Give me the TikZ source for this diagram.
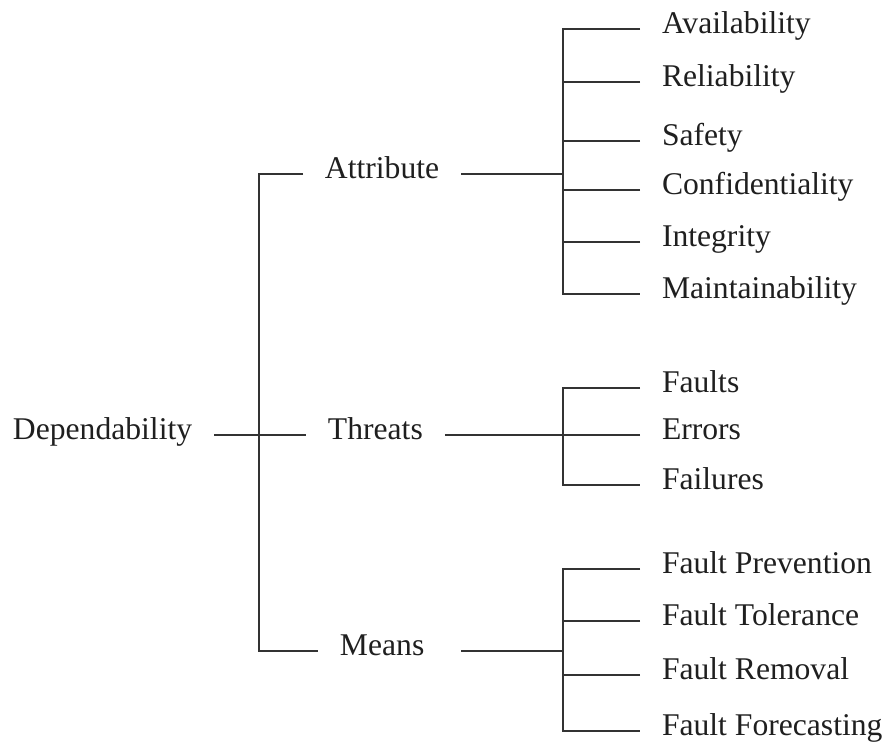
\documentclass[tikz,border=0pt]{standalone}
\usepackage{fontspec}
\setmainfont{Liberation Serif}
\usepackage{tikz}
\usetikzlibrary{positioning}

\begin{document}
\begin{tikzpicture}[
    x=0.02cm, y=-0.02cm,
    font=\fontsize{18}{21.6}\selectfont,
    term/.style={
		anchor=mid west,
		inner sep=0pt,
		outer xsep=0.44cm,
		text=black!88
	},
	branch/.style={
		draw=black!80,
		line width=1pt
	}
  ]
  \useasboundingbox (0,0) rectangle (886,746);

  % root and the three groups
  \node [term] (dep) at (-9,435) {Dependability};
  \node [term] (attr) at (303,174) {Attribute};
  \node [term] (thr) at (306,435) {Threats};
  \node [term] (mns) at (318,651) {Means};

  \coordinate (j0) at (259,0);
  \coordinate (j1) at (563,0);

  % leaves
  \node [term] (avail) at (640,29) {Availability};
  \node [term] (relia) at (640,82) {Reliability};
  \node [term] (safe) at (640,141) {Safety};
  \node [term] (conf) at (640,190) {Confidentiality};
  \node [term] (integ) at (640,242) {Integrity};
  \node [term] (maint) at (640,294) {Maintainability};

  \node [term] (faults) at (640,388) {Faults};
  \node [term] (errors) at (640,435) {Errors};
  \node [term] (fails) at (640,485) {Failures};

  \node [term] (prev) at (640,569) {Fault Prevention};
  \node [term] (toler) at (640,621) {Fault Tolerance};
  \node [term] (remov) at (640,675) {Fault Removal};
  \node [term] (fcast) at (640,731) {Fault Forecasting};

  % first level
  \draw [branch] (dep.mid east) -- (thr.mid west);
  \draw [branch] (attr.mid west) -- (attr.mid west -| j0) |- (mns.mid west);

  % second level
  \draw [branch] (attr.mid east) -- (attr.mid east -| j1);
  \draw [branch] (thr.mid east) -- (thr.mid east -| j1);
  \draw [branch, shorten <=0.3cm] (mns.mid east) -- (mns.mid east -| j1);

  \draw [branch] (avail.mid west) -- (avail.mid west -| j1) |- (maint.mid west);
  \draw [branch] (faults.mid west) -- (faults.mid west -| j1) |- (fails.mid west);
  \draw [branch] (prev.mid west) -- (prev.mid west -| j1) |- (fcast.mid west);

  \foreach \leaf in {relia, safe, conf, integ, errors, toler, remov}
    \draw [branch] (\leaf.mid west) -- (\leaf.mid west -| j1);

\end{tikzpicture}
\end{document}
